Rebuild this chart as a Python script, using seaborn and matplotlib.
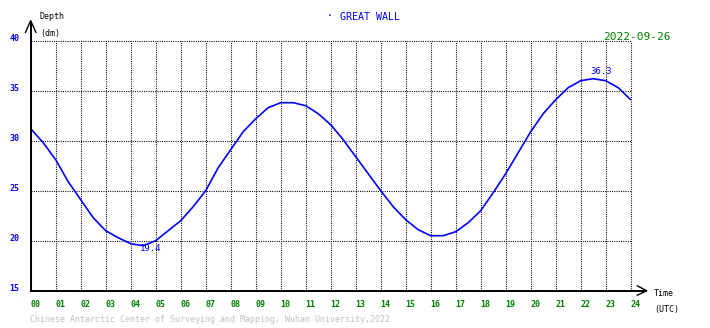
import matplotlib
matplotlib.use("Agg")
import matplotlib.pyplot as plt
from matplotlib.lines import Line2D
import seaborn as sns
import pandas as pd

# ---- data ----
hours = [0.0, 0.5, 1.0, 1.5, 2.0, 2.5, 3.0, 3.5, 4.0, 4.5, 5.0, 5.5, 6.0, 6.5,
         7.0, 7.5, 8.0, 8.5, 9.0, 9.5, 10.0, 10.5, 11.0, 11.5, 12.0, 12.5,
         13.0, 13.5, 14.0, 14.5, 15.0, 15.5, 16.0, 16.5, 17.0, 17.5, 18.0,
         18.5, 19.0, 19.5, 20.0, 20.5, 21.0, 21.5, 22.0, 22.5, 23.0, 23.5, 24.0]
depth = [31.2, 29.8, 28.1, 25.9, 24.1, 22.3, 21.0, 20.3, 19.7, 19.5, 20.0, 21.0,
         22.0, 23.4, 25.0, 27.3, 29.1, 30.9, 32.2, 33.3, 33.8, 33.8, 33.5, 32.7,
         31.6, 30.1, 28.4, 26.7, 25.0, 23.4, 22.1, 21.1, 20.5, 20.5, 20.9, 21.8,
         23.0, 24.8, 26.7, 28.8, 30.9, 32.7, 34.1, 35.3, 36.0, 36.2, 36.0, 35.3, 34.1]
x_ticks = list(range(0, 25))
x_labels = [f"{h:02d}" for h in x_ticks]
y_ticks = [15, 20, 25, 30, 35, 40]
y_labels = ["15", "20", "25", "30", "35", "40"]
min_label, min_pos = "19.4", (4.81, 19.2)
max_label, max_pos = "36.3", (22.81, 36.9)
station = "GREAT WALL"
date_text = "2022-09-26"
footer = "Chinese Antarctic Center of Surveying and Mapping, Wuhan University,2022"

df = pd.DataFrame({"hour": hours, "depth": depth})

sns.set_style("white")
plt.rcParams["font.family"] = ["DejaVu Sans Mono", "DejaVu Sans"]
plt.rcParams["lines.scale_dashes"] = False

W, H = 710, 328
fig = plt.figure(figsize=(W / 100, H / 100), dpi=100)
L, R, T, B = 30.7, 630.7, 40.7, 290.7
ax = fig.add_axes([L / W, 1 - B / H, (R - L) / W, (B - T) / H])

sns.lineplot(data=df, x="hour", y="depth", ax=ax, color="#0000ff", linewidth=1.2)

ax.set_xlim(0, 24)
ax.set_ylim(15, 40)
ax.set_xticks(x_ticks)
ax.set_xticklabels(x_labels, ha="left", color="#008000", fontsize=6, fontweight="bold")
ax.set_yticks(y_ticks)
ax.set_yticklabels(y_labels, color="#0000ff", fontsize=6, va="baseline", fontweight="bold")
ax.tick_params(axis="both", length=0)
ax.tick_params(axis="x", pad=7)
ax.tick_params(axis="y", pad=8)
ax.set_xlabel("")
ax.set_ylabel("")
for s in ax.spines.values():
    s.set_visible(False)
ax.grid(True, color="black", linewidth=0.8, linestyle=(0, (0.72, 0.9)))
for gl in ax.get_xgridlines() + ax.get_ygridlines():
    gl.set_clip_on(False)
ax.set_axisbelow(True)

ax.text(min_pos[0], min_pos[1], min_label, color="#0000ff", fontsize=6.5,
        ha="center", va="center")
ax.text(max_pos[0], max_pos[1], max_label, color="#0000ff", fontsize=6.5,
        ha="center", va="center")


def fx(x):
    return x / W


def fy(y):
    return 1 - y / H


def fline(xs, ys, lw=1.4):
    fig.add_artist(Line2D([fx(v) for v in xs], [fy(v) for v in ys],
                          color="black", linewidth=lw, transform=fig.transFigure,
                          solid_capstyle="butt"))


# axes with arrows
fline([L, L], [B + 1, 20.7])
fline([L - 5.5, L, L + 5.5], [33, 20.7, 33], lw=1.0)
fline([L - 1, 646.7], [B, B])
fline([636.7, 646.7, 636.7], [285.5, B, 295.5], lw=1.0)

# texts
fig.text(fx(39), fy(16.5), "Depth", fontsize=6, color="black", va="center", ha="left")
fig.text(fx(40), fy(33.5), "(dm)", fontsize=6, color="black", va="center", ha="left")
fig.text(fx(654), fy(294), "Time", fontsize=6, color="black", va="center", ha="left")
fig.text(fx(654), fy(309.5), "(UTC)", fontsize=6, color="black", va="center", ha="left")
fig.text(fx(330), fy(15.5), "·", fontsize=7, color="#0000ff", va="center", ha="center")
fig.text(fx(340), fy(16.5), station, fontsize=7.2, color="#0000ff", va="center", ha="left")
fig.text(fx(671), fy(37), date_text, fontsize=8, color="#008000", va="center", ha="right")
fig.text(fx(30), fy(320), footer, fontsize=6, color="#c0c0c0", va="center", ha="left")

fig.savefig("out.png", dpi=100)
